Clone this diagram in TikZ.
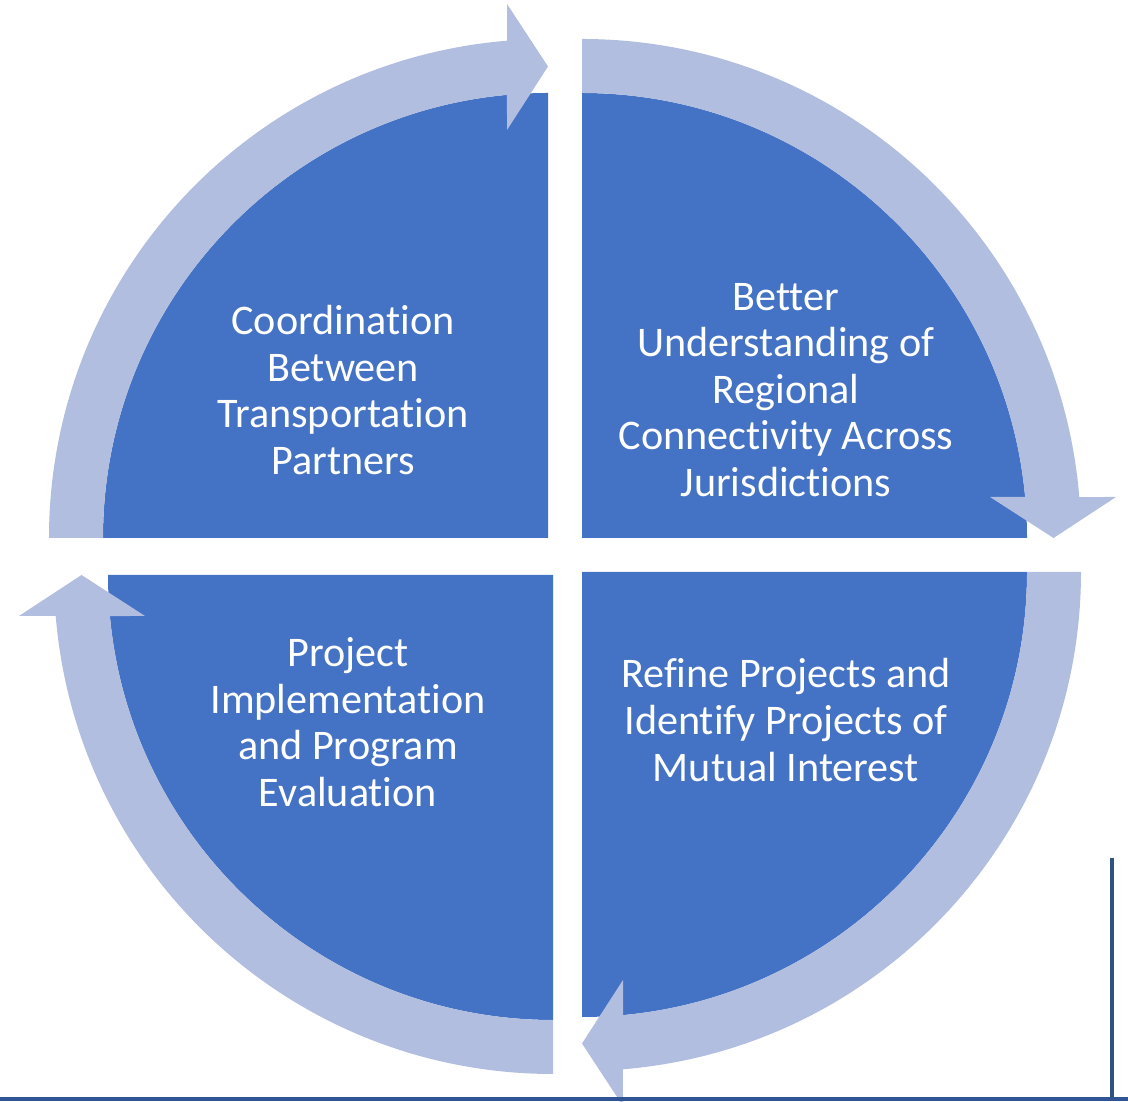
\documentclass[tikz,border=0pt]{standalone}
\usepackage{fontspec}
\setmainfont{Carlito}[Ligatures=NoCommon]
\usetikzlibrary{positioning}
\definecolor{quadblue}{HTML}{4472C4}
\definecolor{ringblue}{HTML}{B2BEDF}
\definecolor{rulenavy}{HTML}{2F5482}
\definecolor{footblue}{HTML}{2F5597}

% one quarter of the cycle: sector plus curved arrow, drawn for the top right and turned for the others
\newcommand{\cyclepart}[3]{%
  \begin{scope}[shift={(#1,#2)}, rotate=#3]
    \fill[quadblue] (0,0) -- (0:445) arc (0:90:445) -- cycle;
    \fill[ringblue] (90:445) -- (90:499) arc (90:4.71:499) -- (534,41) -- (471.5,0)
      -- (408,41) -- (5.29:445) arc (5.29:90:445) -- cycle;
  \end{scope}}

\begin{document}
\begin{tikzpicture}[x=0.02cm, y=0.02cm,
    steptext/.style={text=white, align=center, font=\fontsize{24}{26.5}\selectfont}]
            \useasboundingbox (0,0) rectangle (1128,1101);
            \clip (0,0) rectangle (1128,1101);

            \cyclepart{582}{563}{0}
            \cyclepart{582}{529}{-90}
            \cyclepart{553}{526}{180}
            \cyclepart{548}{563}{90}

            \node[steptext] (coord) at (343,711) {Coordination\\Between\\Transportation\\Partners};
            \node[steptext] (better) at (786,711) {Better\\Understanding of\\Regional\\Connectivity Across\\Jurisdictions};
            \node[steptext] (refine) at (786,381) {Refine Projects and\\Identify Projects of\\Mutual Interest};
            \node[steptext] (project) at (348,379) {Project\\Implementation\\and Program\\Evaluation};

            % rules at the foot and on the right
            \draw[footblue, line width=0.09cm] (0,2) -- (1128,2);
            \draw[rulenavy, line width=0.08cm] (1112,243) -- (1112,4);
\end{tikzpicture}
\end{document}
